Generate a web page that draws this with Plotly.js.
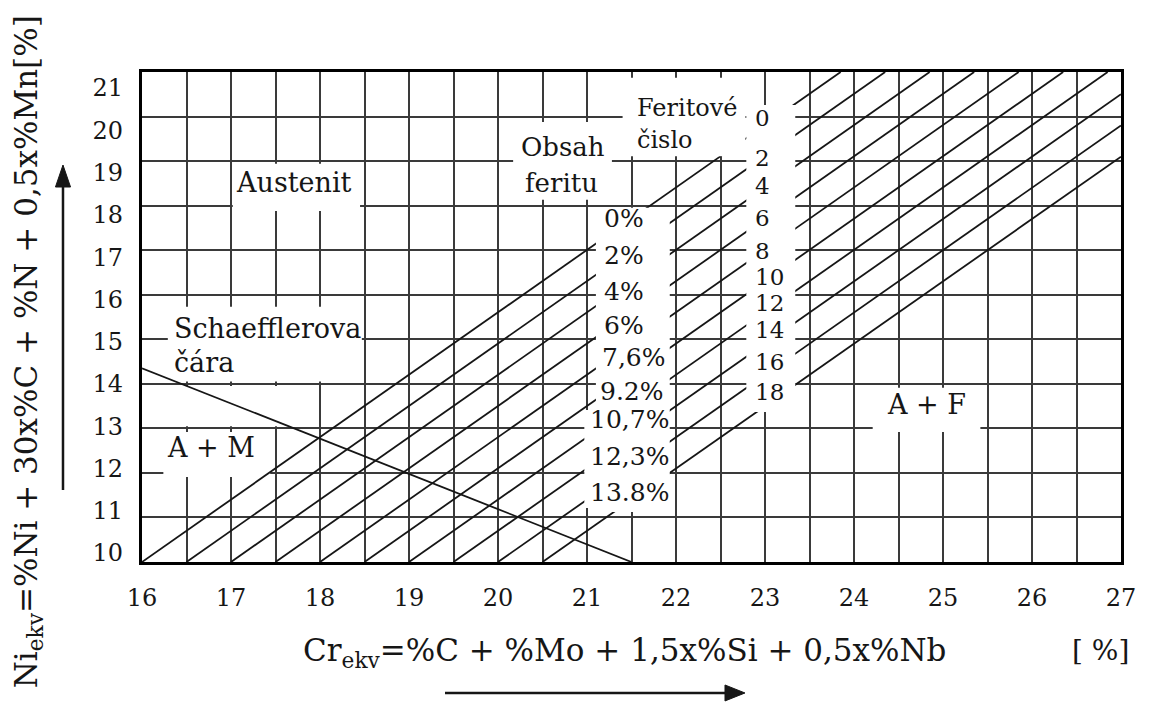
<!DOCTYPE html>
<html>
<head>
<meta charset="utf-8">
<script src="https://cdn.plot.ly/plotly-3.0.1.min.js"></script>
<style>
  html, body { margin: 0; padding: 0; background: #ffffff; }
  #chart { width: 1158px; height: 707px; }
</style>
</head>
<body>
<div id="chart"></div>
<script>
// ---------------- DATA ----------------
// Axis ticks
const crTicks = [16, 17, 18, 19, 20, 21, 22, 23, 24, 25, 26, 27];
const niTicks = [10, 11, 12, 13, 14, 15, 16, 17, 18, 19, 20, 21];

// Iso-ferrite lines (same line carries % ferrite label on the left and ferrite number on the right)
const ferriteLineStartCr = [16, 16.5, 17, 17.5, 18, 18.5, 19, 19.5, 20, 20.5];
const ferriteLineStartNi = [10, 10, 10, 10, 10, 10, 10, 10, 10, 10];
const ferriteLineEndCr   = [23.85, 24.35, 24.85, 25.35, 25.85, 26.35, 26.85, 27, 27, 27];
const ferriteLineEndNi   = [21, 21, 21, 21, 21, 21, 21, 20.5, 19.8, 19.1];

// Schaeffler line
const schaefflerCr = [16, 21.5];
const schaefflerNi = [14.35, 10];

// Labels
const ferritePercentLabels = ['0%', '2%', '4%', '6%', '7,6%', '9.2%', '10,7%', '12,3%', '13.8%'];
const ferriteNumberLabels  = ['0', '2', '4', '6', '8', '10', '12', '14', '16', '18'];

// ---------------- LAYOUT HELPERS ----------------
const SERIF = 'DejaVu Serif';
const INK = '#161616';
const GRID = '#3a3a3a';

// positions of the label texts (Cr, Ni) inside the diagram
const pctLabelCr = [21.17, 21.17, 21.17, 21.17, 21.15, 21.12, 21.01, 21.01, 21.01];
const pctLabelNi = [17.72, 16.87, 16.08, 15.30, 14.60, 13.82, 13.19, 12.36, 11.55];
const fnLabelCr = 22.86;
const fnLabelNi = [19.97, 19.07, 18.44, 17.72, 16.98, 16.40, 15.81, 15.21, 14.49, 13.82];

const traces = [];
for (let k = 0; k < ferriteLineStartCr.length; k++) {
  traces.push({
    type: 'scatter', mode: 'lines',
    x: [ferriteLineStartCr[k], ferriteLineEndCr[k]],
    y: [ferriteLineStartNi[k], ferriteLineEndNi[k]],
    line: { color: INK, width: 1.8 },
    hoverinfo: 'skip', showlegend: false
  });
}
traces.push({
  type: 'scatter', mode: 'lines',
  x: schaefflerCr, y: schaefflerNi,
  line: { color: INK, width: 1.8 },
  hoverinfo: 'skip', showlegend: false
});
// carrier for the tick-label axis
traces.push({
  type: 'scatter', mode: 'none', x: crTicks, y: niTicks, yaxis: 'y2',
  hoverinfo: 'skip', showlegend: false
});

function box(x0, x1, y0, y1, layer) {
  return { type: 'rect', xref: 'x', yref: 'y', x0: x0, x1: x1, y0: y0, y1: y1,
           fillcolor: '#ffffff', line: { width: 0 }, layer: layer };
}
const shapes = [
  box(21.10, 21.93, 11.12, 17.95, 'above'),   // % ferrite label column
  box(20.97, 21.12, 11.21, 13.41, 'above'),   // wide lower % labels
  box(22.79, 23.34, 13.37, 20.26, 'above'),   // ferrite number column
  box(21.40, 22.78, 19.11, 20.87, 'above'),   // "Feritové čislo"
  box(20.17, 21.28, 18.13, 19.88, 'above'),   // "Obsah feritu"
  box(17.02, 18.45, 17.88, 18.94, 'above'),   // "Austenit"
  box(16.29, 18.47, 14.05, 15.73, 'between'), // "Schaefflerova čára"
  box(16.29, 17.66, 13.05, 13.95, 'between'),
  box(16.24, 17.44, 11.91, 12.92, 'between'), // "A + M"
  box(24.21, 25.42, 12.92, 13.91, 'between')  // "A + F"
];
// title arrows (paper coordinates)
shapes.push({ type: 'line', xref: 'paper', yref: 'paper', x0: 0.3095, x1: 0.600, y0: -0.2673, y1: -0.2673,
              line: { color: INK, width: 2.5 } });
shapes.push({ type: 'path', xref: 'paper', yref: 'paper',
              path: 'M 0.6159 -0.2673 L 0.5955 -0.2510 L 0.5955 -0.2836 Z',
              fillcolor: INK, line: { color: INK, width: 1 } });
shapes.push({ type: 'line', xref: 'paper', yref: 'paper', x0: -0.0807, x1: -0.0807, y0: 0.1469, y1: 0.770,
              line: { color: INK, width: 2.5 } });
shapes.push({ type: 'path', xref: 'paper', yref: 'paper',
              path: 'M -0.0807 0.8102 L -0.0884 0.7653 L -0.0730 0.7653 Z',
              fillcolor: INK, line: { color: INK, width: 1 } });

function txt(x, y, text, size, xanchor) {
  return { xref: 'x', yref: 'y', x: x, y: y, text: text, showarrow: false,
           xanchor: xanchor || 'center', yanchor: 'middle',
           font: { family: SERIF, size: size, color: INK } };
}
const annotations = [
  txt(17.71, 18.51, 'Austenit', 27),
  txt(16.34, 15.25, 'Schaefflerova', 27, 'left'),
  txt(16.34, 14.47, 'čára', 27, 'left'),
  txt(16.78, 12.56, 'A + M', 27),
  txt(24.82, 13.53, 'A + F', 27),
  txt(20.73, 19.32, 'Obsah', 26),
  txt(20.71, 18.51, 'feritu', 26),
  txt(21.54, 20.19, 'Feritové', 24, 'left'),
  txt(21.54, 19.47, 'čislo', 24, 'left')
];
ferritePercentLabels.forEach((t, i) => annotations.push(txt(pctLabelCr[i], pctLabelNi[i], t, 25, 'left')));
ferriteNumberLabels.forEach((t, i) => annotations.push(txt(fnLabelCr, fnLabelNi[i], t, 23, 'left')));

// axis titles (paper coordinates)
annotations.push({
  xref: 'paper', yref: 'paper', x: 0.493, y: -0.184, showarrow: false,
  text: 'Cr<sub>ekv</sub>=%C + %Mo + 1,5x%Si + 0,5x%Nb',
  xanchor: 'center', yanchor: 'middle', font: { family: SERIF, size: 31, color: INK }
});
annotations.push({
  xref: 'paper', yref: 'paper', x: 0.979, y: -0.18, showarrow: false,
  text: '[ %]', xanchor: 'center', yanchor: 'middle',
  font: { family: SERIF, size: 28, color: INK }
});
annotations.push({
  xref: 'paper', yref: 'paper', x: -0.1164, y: 0.428, showarrow: false,
  text: 'Ni<sub>ekv</sub>=%Ni + 30x%C + %N + 0,5x%Mn[%]', textangle: -90,
  xanchor: 'center', yanchor: 'middle', font: { family: SERIF, size: 31, color: INK }
});

const layout = {
  width: 1158, height: 707,
  margin: { l: 142, r: 37, t: 72, b: 145 },
  paper_bgcolor: '#ffffff', plot_bgcolor: '#ffffff',
  showlegend: false, hovermode: false,
  font: { family: SERIF, color: INK },
  xaxis: {
    range: [16, 27], tickvals: crTicks, ticktext: crTicks.map(String),
    showgrid: true, gridcolor: GRID, gridwidth: 2,
    minor: { dtick: 0.5, tick0: 16, showgrid: true, gridcolor: GRID, gridwidth: 2, ticks: '' },
    zeroline: false, ticks: '', ticklabelstandoff: 12,
    tickfont: { family: SERIF, size: 24, color: INK },
    showline: true, mirror: true, linecolor: '#000000', linewidth: 3
  },
  yaxis: {
    range: [10, 21], dtick: 1, tick0: 10,
    showgrid: true, gridcolor: GRID, gridwidth: 2,
    showticklabels: false, zeroline: false, ticks: '',
    showline: true, mirror: true, linecolor: '#000000', linewidth: 3
  },
  yaxis2: {
    overlaying: 'y', side: 'left', anchor: 'x',
    range: [9.787, 21.379], tickvals: niTicks, ticktext: niTicks.map(String),
    showgrid: false, zeroline: false, showline: false, ticks: '',
    ticklabelstandoff: 18,
    tickfont: { family: SERIF, size: 24, color: INK }
  },
  shapes: shapes,
  annotations: annotations
};

Plotly.newPlot('chart', traces, layout, { displayModeBar: false, staticPlot: true });
</script>
</body>
</html>
